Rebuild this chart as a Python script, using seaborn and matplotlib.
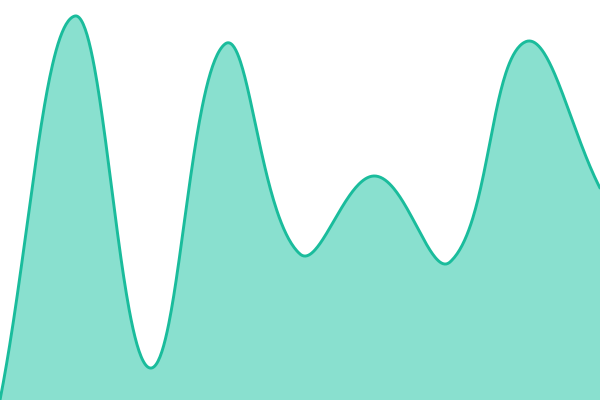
import numpy as np
import pandas as pd
import matplotlib
matplotlib.use("Agg")
import matplotlib.pyplot as plt
import seaborn as sns

# data points (evenly spaced categories)
steps = [0, 1, 2, 3, 4, 5, 6, 7, 8]
values = [0, 96, 8, 89, 36.5, 56, 34.5, 89.5, 53]

W, H = 600, 400
XMAX, YMAX = 8, 100


def tension_curve(x, y, tension=0.4, per_seg=80):
    # bezier smoothing with control points scaled by neighbour distances (in pixel space)
    sx, sy = W / XMAX, H / YMAX
    p = np.column_stack([np.asarray(x, float) * sx, np.asarray(y, float) * sy])
    n = len(p)
    cp_in = np.zeros_like(p)
    cp_out = np.zeros_like(p)
    for i in range(n):
        prev = p[i - 1] if i > 0 else p[i]
        nxt = p[i + 1] if i < n - 1 else p[i]
        d01 = np.hypot(*(p[i] - prev))
        d12 = np.hypot(*(nxt - p[i]))
        s01 = d01 / (d01 + d12)
        s12 = d12 / (d01 + d12)
        cp_in[i] = p[i] - tension * s01 * (nxt - prev)
        cp_out[i] = p[i] + tension * s12 * (nxt - prev)
    pts = []
    for i in range(n - 1):
        t = np.linspace(0, 1, per_seg, endpoint=(i == n - 2))[:, None]
        seg = ((1 - t) ** 3 * p[i] + 3 * (1 - t) ** 2 * t * cp_out[i]
               + 3 * (1 - t) * t ** 2 * cp_in[i + 1] + t ** 3 * p[i + 1])
        pts.append(seg)
    pts = np.vstack(pts)
    return pts[:, 0] / sx, pts[:, 1] / sy


xs, ys = tension_curve(steps, values)
df = pd.DataFrame({"step": xs, "value": ys})

sns.set_style("white")
fig = plt.figure(figsize=(6, 4), dpi=100)
ax = fig.add_axes([0, 0, 1, 1])

ax.fill_between(df["step"], df["value"], 0, color="#89e0cf", linewidth=0)
sns.lineplot(data=df, x="step", y="value", ax=ax, color="#1abc9c", linewidth=2.1,
             sort=False, estimator=None)

ax.set_xlim(0, XMAX)
ax.set_ylim(0, YMAX)
ax.axis("off")

fig.savefig("out.png", dpi=100)
